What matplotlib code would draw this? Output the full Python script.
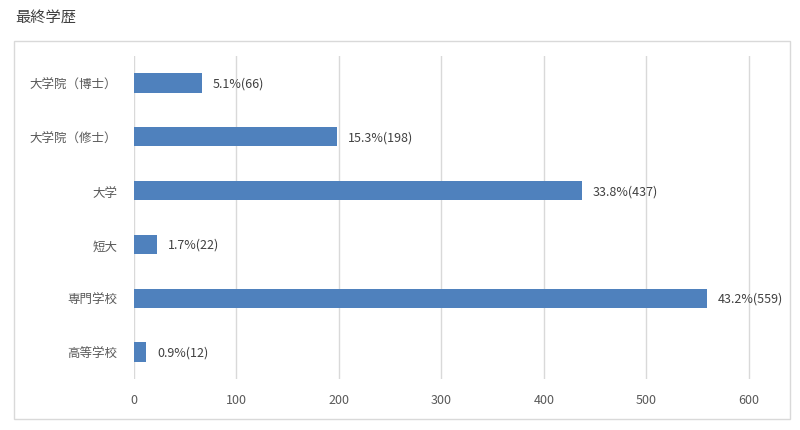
import matplotlib.pyplot as plt
from matplotlib.patches import Rectangle

plt.rcParams['font.family'] = ['Noto Sans CJK JP', 'DejaVu Sans']

categories = ['大学院（博士）', '大学院（修士）', '大学', '短大', '専門学校', '高等学校']
counts = [66, 198, 437, 22, 559, 12]
percents = [5.1, 15.3, 33.8, 1.7, 43.2, 0.9]
x_ticks = [0, 100, 200, 300, 400, 500, 600]

bar_color = '#4f81bd'
grid_color = '#d9d9d9'

fig = plt.figure(figsize=(8, 4.31), dpi=100)

# outer chart border
fig.patches.append(Rectangle((14 / 800, 1 - 420 / 431), 776 / 800, 378 / 431,
                             transform=fig.transFigure, fill=False,
                             edgecolor=grid_color, linewidth=1))
fig.text(15 / 800, 1 - 17 / 431, '最終学歴', fontsize=11, color='#404040',
         va='center', ha='left')

ax = fig.add_axes([134 / 800, 1 - 380 / 431, 620 / 800, 323 / 431])
y = list(range(len(categories)))
ax.barh(y, counts, height=0.36, color=bar_color, zorder=3)
ax.set_ylim(len(categories) - 0.5, -0.5)
ax.set_xlim(0, 605)
ax.set_xticks(x_ticks)
ax.set_yticks(y)
ax.set_yticklabels(categories, fontsize=9.5)
ax.grid(axis='x', color=grid_color, linewidth=1, zorder=0)
for s in ax.spines.values():
    s.set_visible(False)
ax.tick_params(axis='both', length=0, labelsize=9, labelcolor='#595959')
ax.tick_params(axis='y', pad=12)
ax.tick_params(axis='x', pad=10)

for yi, c, p in zip(y, counts, percents):
    ax.annotate(f'{p}%({c})', (c, yi), xytext=(8, 0), textcoords='offset points',
                va='center', ha='left', fontsize=9, color='#404040')

fig.savefig('out.png', dpi=100)
